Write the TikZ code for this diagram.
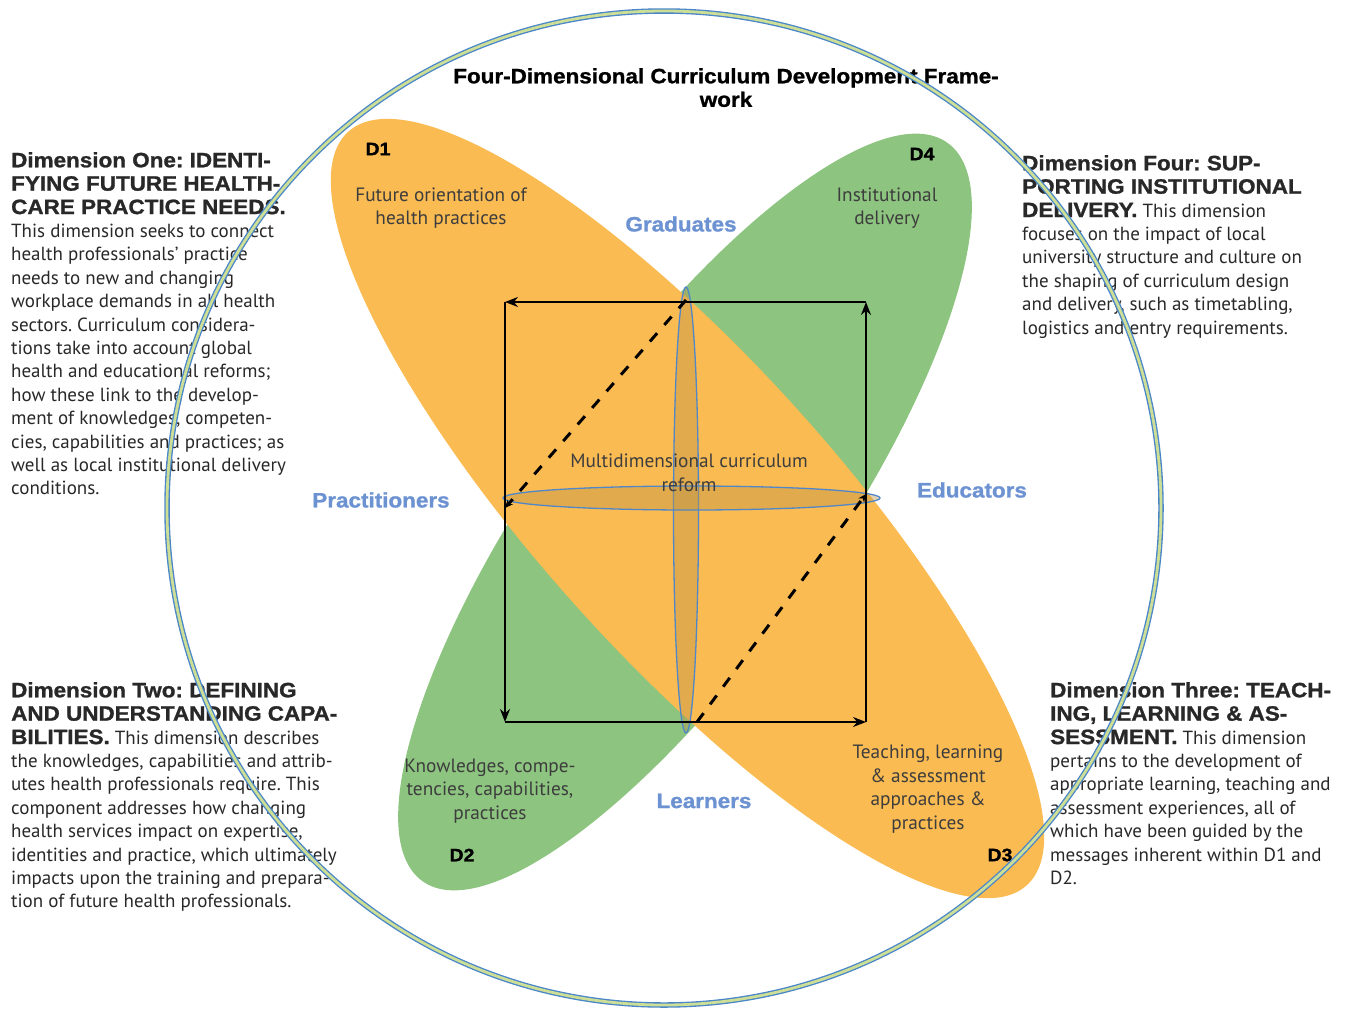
\documentclass[tikz,border=0pt]{standalone}
\usepackage{fontspec}
\setmainfont{PT Sans}
\newfontfamily\headf{Liberation Sans}[FakeStretch=1.08, BoldFeatures={FakeBold=1.2}]
\newfontfamily\bodyf{PT Sans}
\usetikzlibrary{arrows.meta}
\definecolor{dorange}{RGB}{250,187,82}
\definecolor{dgreen}{RGB}{141,196,128}
\definecolor{dblue}{RGB}{108,146,210}
\definecolor{rimblue}{RGB}{75,135,200}
\definecolor{rimfill}{RGB}{205,222,150}
\definecolor{ellfill}{RGB}{185,145,70}
\definecolor{ellline}{RGB}{80,135,200}
\definecolor{txt}{RGB}{40,40,40}
\newcommand{\hd}[1]{{\headf\bfseries\fontsize{20.8}{23.4}\selectfont #1}}
\tikzset{
  bodytext/.style={font=\bodyf\fontsize{19}{23.4}\selectfont, text=txt, align=left, anchor=north west, inner sep=0pt},
  intext/.style={font=\bodyf\fontsize{19.3}{23.5}\selectfont, text=txt!90, align=center, inner sep=0pt},
  role/.style={font=\headf\bfseries\fontsize{20.8}{24}\selectfont, text=dblue, inner sep=0pt},
  dlabel/.style={font=\headf\bfseries\fontsize{18}{20}\selectfont, text=black, inner sep=0pt},
  cyc/.style={line width=1.8pt, -{Stealth[length=13pt,width=10pt]}},
  dashline/.style={line width=3pt, dash pattern=on 11pt off 11pt, -{Stealth[length=8pt,width=7pt]}},
  thinell/.style={fill=ellfill, fill opacity=0.4, draw=ellline, line width=1.3pt}
}
\begin{document}
\frenchspacing
\begin{tikzpicture}[x=1pt,y=-1pt]
\useasboundingbox (0,0) rectangle (1349,1009);
% petals
\begin{scope}[shift={(685,512)}, rotate=54.6]
  \fill[dgreen] (0,0) ellipse [x radius=453pt, y radius=142pt];
\end{scope}
\begin{scope}[shift={(687.5,508.5)}, rotate=-48]
  \fill[dorange] (0,0) ellipse [x radius=507pt, y radius=148pt];
\end{scope}
% thin ellipses
\path[thinell] (686,510) ellipse [x radius=12.5, y radius=223];
\path[thinell] (691.5,498) ellipse [x radius=188.5, y radius=12];
% square cycle
\coordinate (tl) at (505,302);
\coordinate (tr) at (866,302);
\coordinate (br) at (866,722);
\coordinate (bl) at (505,722);
\coordinate (dA) at (686,300);
\coordinate (dB) at (505,508);
\coordinate (dC) at (697,722);
\coordinate (dD) at (866,494);
\draw[cyc] (br) -- (tr);
\draw[cyc] (tr) -- (tl);
\draw[cyc] (tl) -- (bl);
\draw[cyc] (bl) -- (br);
\draw[dashline] (dA) -- (dB);
\draw[dashline] (dC) -- (dD);
% title
\node[font=\headf\bfseries\fontsize{20.8}{23.5}\selectfont, align=center, inner sep=0pt, anchor=north] (title) at (726,68) {Four-Dimensional Curriculum Development Frame-\\work};
% D labels
\node[dlabel] (d1) at (378,149) {D1};
\node[dlabel] (d4) at (922,154) {D4};
\node[dlabel] (d2) at (462,855) {D2};
\node[dlabel] (d3) at (1000,855) {D3};
% inner texts
\node[intext] (t1) at (441,208) {Future orientation of\\health practices};
\node[intext] (t4) at (887,208) {Institutional\\delivery};
\node[intext] (tm) at (689,473) {Multidimensional curriculum\\reform};
\node[intext] (t2) at (490,791) {Knowledges, compe-\\tencies, capabilities,\\practices};
\node[intext] (t3) at (928,789) {Teaching, learning\\\& assessment\\approaches \&\\practices};
% roles
\node[role] (grad) at (681,224) {Graduates};
\node[role] (prac) at (381,500) {Practitioners};
\node[role] (educ) at (972,490) {Educators};
\node[role] (lear) at (704,801) {Learners};
% side texts
\node[bodytext] (s1) at (11,152) {\hd{Dimension One: IDENTI-}\\\hd{FYING FUTURE HEALTH-}\\\hd{CARE PRACTICE NEEDS.}\\This dimension seeks to connect\\health professionals’ practice\\needs to new and changing\\workplace demands in all health\\sectors. Curriculum considera-\\tions take into account global\\health and educational reforms;\\how these link to the develop-\\ment of knowledges, competen-\\cies, capabilities and practices; as\\well as local institutional delivery\\conditions.};
\node[bodytext] (s4) at (1022,155) {\hd{Dimension Four: SUP-}\\\hd{PORTING INSTITUTIONAL}\\\hd{DELIVERY.} This dimension\\focuses on the impact of local\\university structure and culture on\\the shaping of curriculum design\\and delivery, such as timetabling,\\logistics and entry requirements.};
\node[bodytext] (s2) at (11,682) {\hd{Dimension Two: DEFINING}\\\hd{AND UNDERSTANDING CAPA-}\\\hd{BILITIES.} This dimension describes\\the knowledges, capabilities and attrib-\\utes health professionals require. This\\component addresses how changing\\health services impact on expertise,\\identities and practice, which ultimately\\impacts upon the training and prepara-\\tion of future health professionals.};
\node[bodytext] (s3) at (1050,682) {\hd{Dimension Three: TEACH-}\\\hd{ING, LEARNING \& AS-}\\\hd{SESSMENT.} This dimension\\pertains to the development of\\appropriate learning, teaching and\\assessment experiences, all of\\which have been guided by the\\messages inherent within D1 and\\D2.};
% outer ring
\node[circle, minimum size=994pt, inner sep=0pt] (ring) at (664,508) {};
\draw[rimblue, line width=5.5pt] (ring.center) circle [radius=497pt];
\draw[rimfill, line width=2.8pt] (ring.center) circle [radius=497pt];
\end{tikzpicture}
\end{document}
